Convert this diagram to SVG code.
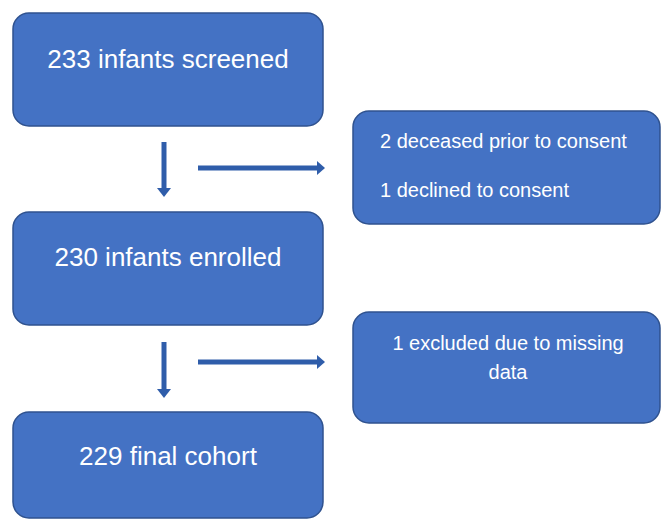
<svg xmlns="http://www.w3.org/2000/svg" width="661" height="520" viewBox="0 0 661 520">
<defs>
<style>
.box{fill:#4472C4;stroke:#2F528F;stroke-width:1.5}
.big{font-family:"Liberation Sans",Arial,sans-serif;font-size:26px;fill:#ffffff;text-anchor:middle}
.sm{font-family:"Liberation Sans",Arial,sans-serif;font-size:20px;fill:#ffffff}
.ln{stroke:#2F5DAA;stroke-width:5;fill:none}
.hd{fill:#2F5DAA}
</style>
</defs>
<rect width="661" height="520" fill="#ffffff"/>
<g id="connectors">
<line class="ln" x1="164" y1="142" x2="164" y2="189"/>
<polygon class="hd" points="157,188 171,188 164,197"/>
<line class="ln" x1="198" y1="168" x2="318" y2="168"/>
<polygon class="hd" points="317,161 325,168 317,175"/>
<line class="ln" x1="164" y1="342" x2="164" y2="390"/>
<polygon class="hd" points="157,389 171,389 164,398"/>
<line class="ln" x1="198" y1="362" x2="318" y2="362"/>
<polygon class="hd" points="317,355 325,362 317,369"/>
</g>
<g id="screened">
<rect class="box" x="13" y="13" width="310" height="113" rx="16"/>
<text class="big" x="168" y="68">233 infants screened</text>
</g>
<g id="excluded1">
<rect class="box" x="353" y="111" width="307" height="113" rx="16"/>
<text class="sm" x="380" y="148">2 deceased prior to consent</text>
<text class="sm" x="380" y="197">1 declined to consent</text>
</g>
<g id="enrolled">
<rect class="box" x="13" y="212" width="310" height="113" rx="16"/>
<text class="big" x="168" y="266">230 infants enrolled</text>
</g>
<g id="excluded2">
<rect class="box" x="353" y="312" width="307" height="111" rx="16"/>
<text class="sm" x="508" y="350" text-anchor="middle">1 excluded due to missing</text>
<text class="sm" x="508" y="379" text-anchor="middle">data</text>
</g>
<g id="cohort">
<rect class="box" x="13" y="412" width="310" height="106" rx="16"/>
<text class="big" x="168" y="465">229 final cohort</text>
</g>
</svg>
